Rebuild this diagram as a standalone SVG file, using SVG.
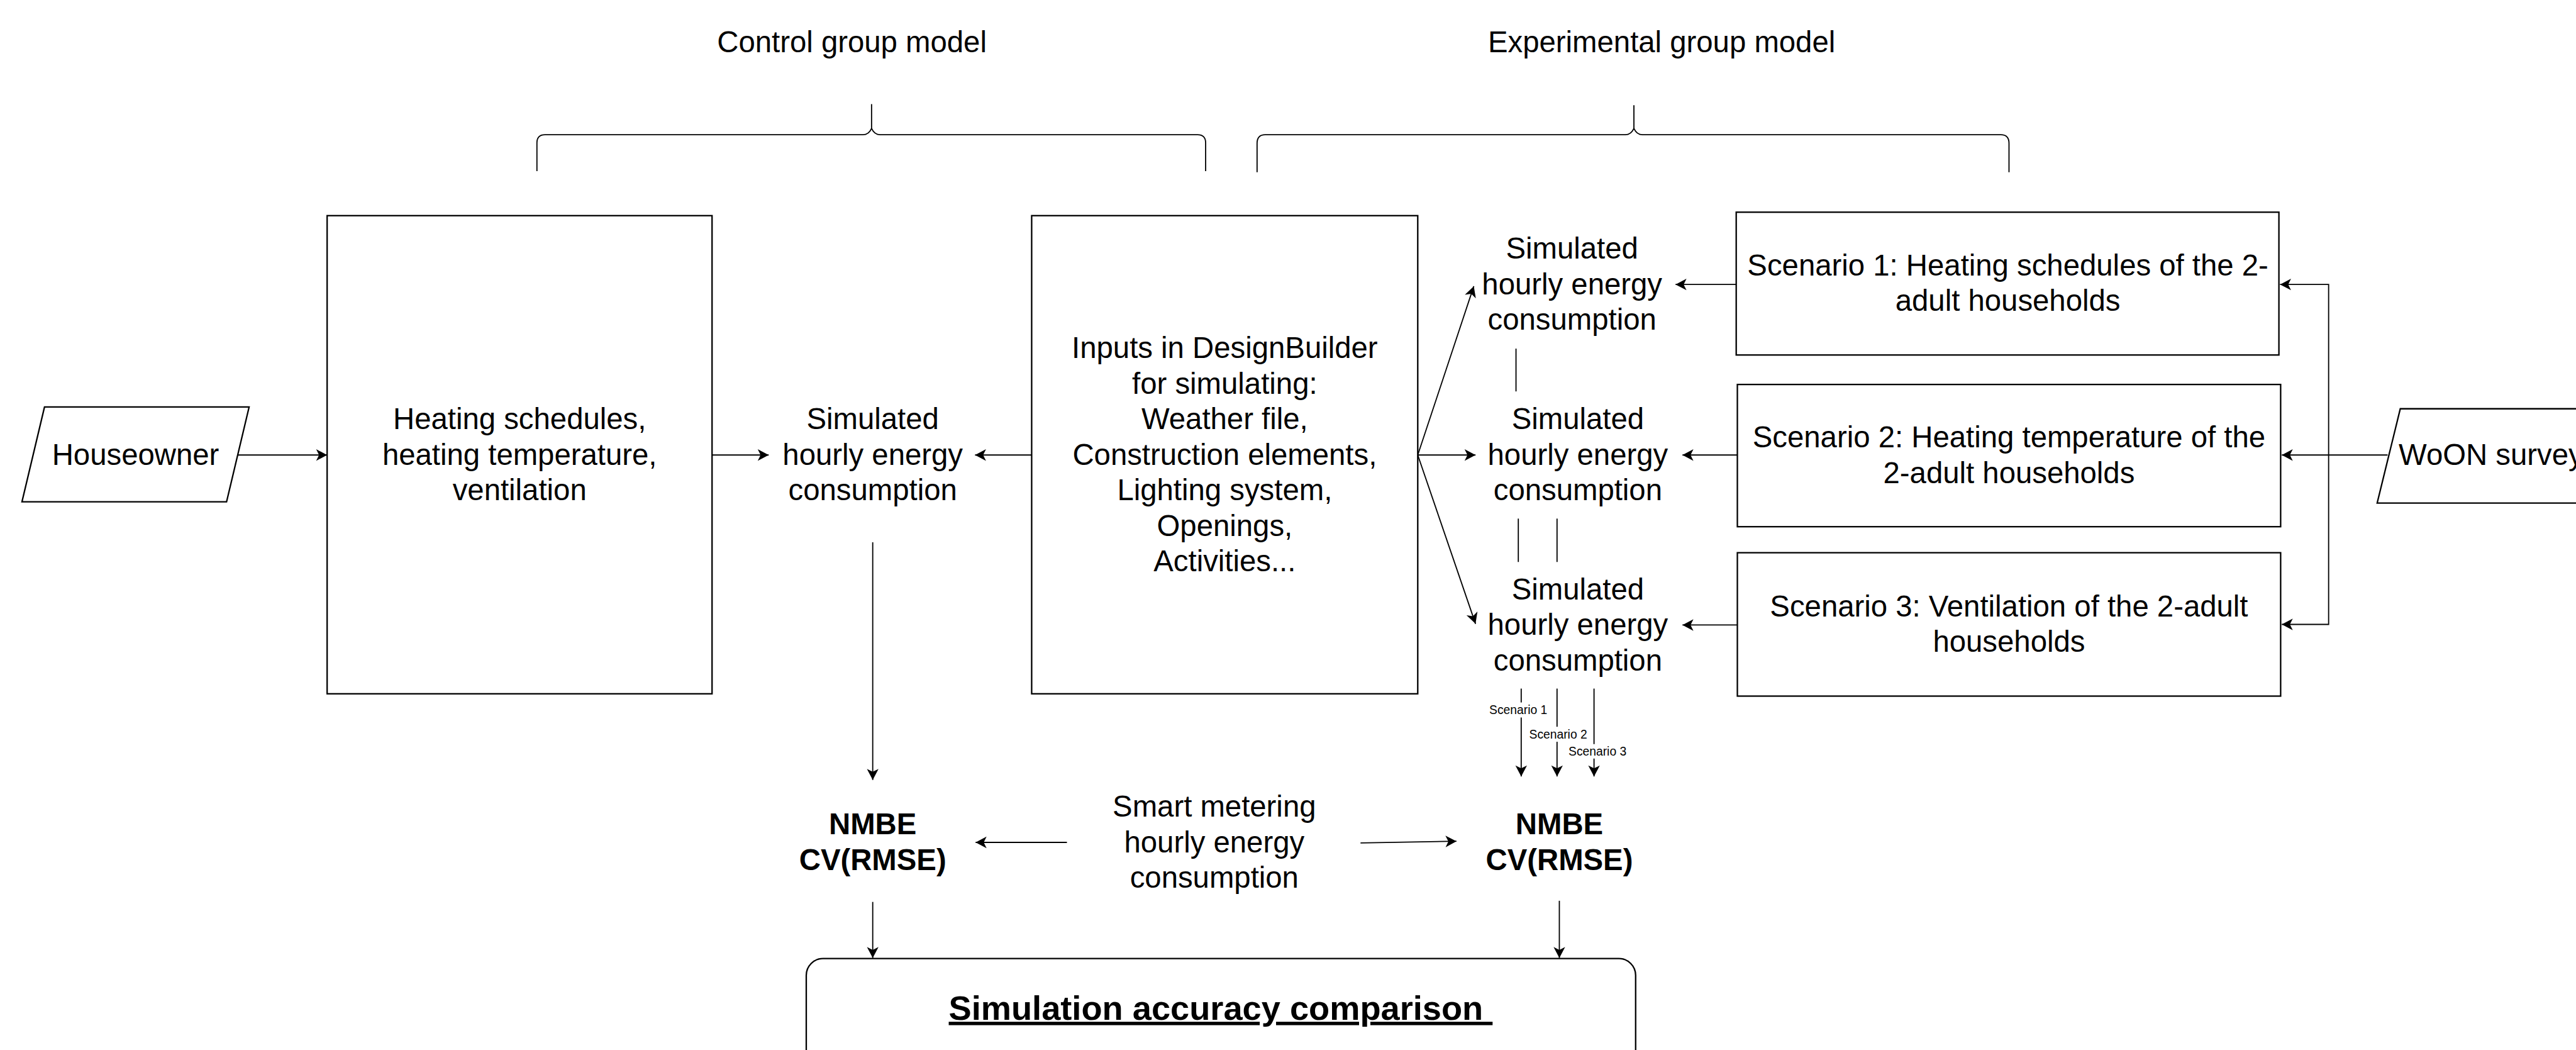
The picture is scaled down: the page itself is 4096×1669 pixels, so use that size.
<svg xmlns="http://www.w3.org/2000/svg" width="4096" height="1669" viewBox="0 0 4096 1669">
<style>
.t{font-family:"Liberation Sans",Arial,Helvetica,sans-serif;font-size:51.5px;fill:#000;text-anchor:middle}
.b{font-weight:bold}
.s{font-size:21px}
.n{fill:#fff;stroke:#000;stroke-width:2.5}
.e{fill:none;stroke:#000;stroke-width:2}
.a{marker-end:url(#arr)}
.bg{fill:#fff;stroke:none}
</style>
<defs>
<marker id="arr" viewBox="-20 -11 22 22" markerWidth="22" markerHeight="22" refX="0" refY="0" orient="auto" markerUnits="userSpaceOnUse">
<path d="M0,0 L-19,-10 L-14,0 L-19,10 Z" fill="#000"/>
</marker>
</defs>
<rect width="4096" height="1669" fill="#fff"/>
<g transform="scale(0.919)">
<g id="connectors">
<line class="e a" x1="411" y1="787" x2="566" y2="787"/>
<line class="e a" x1="1232" y1="787" x2="1330" y2="787"/>
<line class="e a" x1="1785" y1="787" x2="1687" y2="787"/>
<line class="e a" x1="1510" y1="938" x2="1510" y2="1349"/>
<line class="e a" x1="2453" y1="787" x2="2550" y2="495"/>
<line class="e a" x1="2453" y1="787" x2="2553" y2="787"/>
<line class="e a" x1="2453" y1="787" x2="2553" y2="1079"/>
<line class="e a" x1="3004" y1="492" x2="2899" y2="492"/>
<line class="e a" x1="3006" y1="787" x2="2911" y2="787"/>
<line class="e a" x1="3006" y1="1081" x2="2911" y2="1081"/>
<path class="e" d="M4131,787 L4029,787"/>
<path class="e a" d="M4029,787 L4029,492 L3945,492"/>
<path class="e a" d="M4029,787 L3948,787"/>
<path class="e a" d="M4029,787 L4029,1080 L3948,1080"/>
<line class="e" x1="2623" y1="603" x2="2623" y2="677"/>
<line class="e" x1="2627" y1="897" x2="2627" y2="972"/>
<line class="e" x1="2694" y1="897" x2="2694" y2="972"/>
<line class="e a" x1="2632" y1="1191" x2="2632" y2="1343"/>
<line class="e a" x1="2694" y1="1191" x2="2694" y2="1343"/>
<line class="e a" x1="2758" y1="1191" x2="2758" y2="1343"/>
<rect class="bg" x="2576" y="1215" width="102" height="26"/>
<text class="t s" x="2627" y="1235">Scenario 1</text>
<rect class="bg" x="2645" y="1257" width="103" height="26"/>
<text class="t s" x="2696" y="1277">Scenario 2</text>
<rect class="bg" x="2713" y="1287" width="102" height="25"/>
<text class="t s" x="2764" y="1307">Scenario 3</text>
<line class="e a" x1="1846" y1="1457" x2="1688" y2="1457"/>
<line class="e a" x1="2354" y1="1458" x2="2520" y2="1455"/>
<line class="e a" x1="1510" y1="1560" x2="1510" y2="1657"/>
<line class="e a" x1="2698" y1="1558" x2="2698" y2="1657"/>
</g>
<g id="control-label"><text class="t" x="1474" y="90">Control group model</text></g>
<g id="experimental-label"><text class="t" x="2875" y="90">Experimental group model</text></g>
<g id="control-brace"><path class="e" d="M929,296 L929,247 Q929,233 943,233 L1493,233 Q1503,233 1508,222 L1508,180 M1508,222 Q1513,233 1523,233 L2072,233 Q2086,233 2086,247 L2086,296"/></g>
<g id="experimental-brace"><path class="e" d="M2175,298 L2175,248 Q2175,233 2189,233 L2812,233 Q2822,233 2827,222 L2827,182 M2827,222 Q2832,233 2842,233 L3462,233 Q3476,233 3476,248 L3476,298"/></g>
<g id="houseowner"><polygon class="n" points="77,704 431,704 392,868 38,868"/><text class="t" x="234.5" y="804">Houseowner</text></g>
<g id="heating-box"><rect class="n" x="566" y="373" width="666" height="827"/>
<text class="t" x="899" y="742.5">Heating schedules,</text><text class="t" x="899" y="804">heating temperature,</text><text class="t" x="899" y="865.5">ventilation</text></g>
<g id="sim-control"><text class="t" x="1510" y="742.5">Simulated</text><text class="t" x="1510" y="804">hourly energy</text><text class="t" x="1510" y="865.5">consumption</text></g>
<g id="inputs-box"><rect class="n" x="1785" y="373" width="668" height="827"/>
<text class="t" x="2119" y="619.5">Inputs in DesignBuilder</text>
<text class="t" x="2119" y="681">for simulating:</text>
<text class="t" x="2119" y="742.5">Weather file,</text>
<text class="t" x="2119" y="804">Construction elements,</text>
<text class="t" x="2119" y="865.5">Lighting system,</text>
<text class="t" x="2119" y="927">Openings,</text>
<text class="t" x="2119" y="988.5">Activities...</text></g>
<g id="sim-1"><text class="t" x="2720" y="447.5">Simulated</text><text class="t" x="2720" y="509">hourly energy</text><text class="t" x="2720" y="570.5">consumption</text></g>
<g id="sim-2"><text class="t" x="2730" y="742.5">Simulated</text><text class="t" x="2730" y="804">hourly energy</text><text class="t" x="2730" y="865.5">consumption</text></g>
<g id="sim-3"><text class="t" x="2730" y="1036.5">Simulated</text><text class="t" x="2730" y="1098">hourly energy</text><text class="t" x="2730" y="1159.5">consumption</text></g>
<g id="scenario-1"><rect class="n" x="3004" y="367" width="939" height="247"/>
<text class="t" x="3474" y="476.5">Scenario 1: Heating schedules of the 2-</text><text class="t" x="3474" y="538">adult households</text></g>
<g id="scenario-2"><rect class="n" x="3006" y="665" width="940" height="246"/>
<text class="t" x="3476" y="774">Scenario 2: Heating temperature of the</text><text class="t" x="3476" y="835.5">2-adult households</text></g>
<g id="scenario-3"><rect class="n" x="3006" y="956" width="940" height="248"/>
<text class="t" x="3476" y="1066">Scenario 3: Ventilation of the 2-adult</text><text class="t" x="3476" y="1127.5">households</text></g>
<g id="woon"><polygon class="n" points="4153,707 4507,707 4467,870 4113,870"/><text class="t" x="4310" y="804">WoON survey</text></g>
<g id="nmbe-control"><text class="t b" x="1510" y="1443">NMBE</text><text class="t b" x="1510" y="1504.5">CV(RMSE)</text></g>
<g id="smart-metering"><text class="t" x="2101" y="1412.5">Smart metering</text><text class="t" x="2101" y="1474">hourly energy</text><text class="t" x="2101" y="1535.5">consumption</text></g>
<g id="nmbe-experimental"><text class="t b" x="2698" y="1443">NMBE</text><text class="t b" x="2698" y="1504.5">CV(RMSE)</text></g>
<g id="comparison"><rect class="n" x="1395" y="1658" width="1435" height="240" rx="29" ry="29"/>
<text class="t b" x="2112" y="1764" font-size="59" text-decoration="underline" xml:space="preserve" style="font-size:59px;white-space:pre">Simulation accuracy comparison </text></g>
</g>
</svg>
